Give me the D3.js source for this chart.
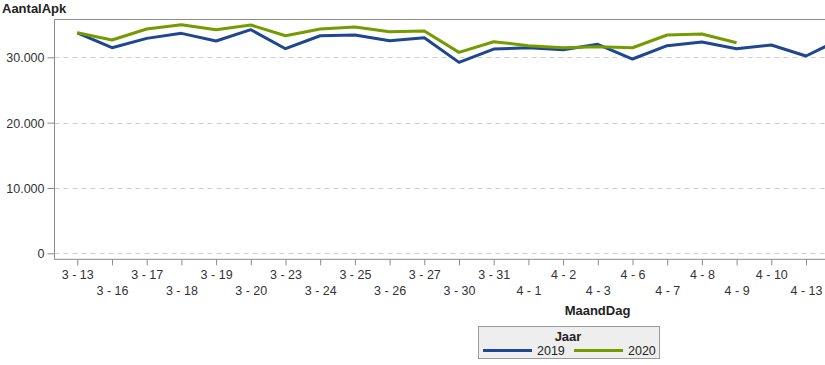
<!DOCTYPE html>
<html><head><meta charset="utf-8">
<script src="https://cdn.jsdelivr.net/npm/d3@7"></script>
<style>
html,body{margin:0;padding:0;background:#fff;overflow:hidden}
svg{display:block;font-family:"Liberation Sans",Arial,sans-serif}
</style></head><body>
<svg id="c" width="825" height="365"></svg>
<script>
const categories = ["3 - 13","3 - 16","3 - 17","3 - 18","3 - 19","3 - 20","3 - 23","3 - 24","3 - 25","3 - 26","3 - 27","3 - 30","3 - 31","4 - 1","4 - 2","4 - 3","4 - 6","4 - 7","4 - 8","4 - 9","4 - 10","4 - 13","4 - 14"];
const values2019 = [33750,31470,32900,33670,32500,34230,31320,33300,33420,32550,33000,29230,31270,31470,31170,31990,29740,31780,32340,31320,31880,30200,32800];
const values2020 = [33750,32650,34330,34990,34230,34950,33300,34330,34640,33930,34030,30760,32390,31780,31470,31620,31470,33420,33570,32240];
const yTicks = [0,10000,20000,30000];
const seriesNames = ["2019","2020"];
const colors = ["#1f4690","#749b00"];

(function(){
const svg = d3.select("#c");
const pLeft = 54.5, pTop = 19.5, pBottom = 259.3, pRight = 863.5;
const x = d3.scalePoint().domain(categories).range([pLeft,pRight]).padding(0.657);
const y = d3.scaleLinear().domain([-918,35790]).range([pBottom,pTop]);
const nl = d3.formatLocale({decimal:",",thousands:".",grouping:[3],currency:["€",""]});
const fmt = nl.format(",d");

svg.append("g").selectAll("line").data(yTicks).join("line")
  .attr("x1",pLeft).attr("x2",825).attr("y1",d=>Math.round(y(d))+0.5).attr("y2",d=>Math.round(y(d))+0.5)
  .attr("stroke","#cfcfcf").attr("stroke-dasharray","5,4");

svg.append("line").attr("x1",pLeft).attr("x2",825).attr("y1",pTop).attr("y2",pTop).attr("stroke","#8a8a8a");

const ya = svg.append("g").attr("transform",`translate(${pLeft},0)`)
  .call(d3.axisLeft(y).tickValues(yTicks).tickFormat(fmt).tickSize(7).tickSizeOuter(0));
ya.select(".domain").attr("stroke","#8a8a8a").attr("d",`M0,${pTop}V${pBottom}`);
ya.selectAll(".tick line").attr("stroke","#8a8a8a");
ya.selectAll(".tick text").attr("font-size","12.5px").attr("fill","#333").attr("x",-10).attr("dy","0.36em")
  .attr("font-family","'Liberation Sans',Arial,sans-serif");

const xa = svg.append("g").attr("transform",`translate(0,${pBottom})`)
  .call(d3.axisBottom(x).tickSize(6).tickSizeOuter(0));
xa.select(".domain").attr("stroke","#8a8a8a").attr("d",`M${pLeft},0H${pRight}`);
xa.selectAll(".tick line").attr("stroke","#8a8a8a");
xa.selectAll(".tick text").attr("font-size","12.5px").attr("fill","#333")
  .attr("font-family","'Liberation Sans',Arial,sans-serif")
  .attr("dy",null)
  .attr("y",(d,i)=> i%2===0 ? 20 : 36);
// the last category lies beyond the visible window; its label is not shown
xa.selectAll(".tick text").filter(d=>x(d)>825).remove();

const series = [values2019, values2020];
const line = d3.line().x((d,i)=>x(categories[i])).y(d=>y(d));
series.forEach((s,k)=>{
  svg.append("path").datum(s).attr("d",line).attr("fill","none")
    .attr("stroke",colors[k]).attr("stroke-width",3).attr("stroke-linejoin","round");
});

svg.append("text").attr("x",2).attr("y",13).attr("font-size","13px").attr("font-weight","bold").attr("fill","#222").text("AantalApk");
svg.append("text").attr("x",597.5).attr("y",315).attr("text-anchor","middle").attr("font-size","13px").attr("font-weight","bold").attr("fill","#222").text("MaandDag");

const lg = svg.append("g");
lg.append("rect").attr("x",478.5).attr("y",326.5).attr("width",181).attr("height",32).attr("fill","#eeeeee").attr("stroke","#9a9a9a");
lg.append("text").attr("x",568).attr("y",341).attr("text-anchor","middle").attr("font-size","13px").attr("font-weight","bold").attr("fill","#222").text("Jaar");
const lx = [483,574];
seriesNames.forEach((n,k)=>{
  lg.append("line").attr("x1",lx[k]).attr("x2",lx[k]+49).attr("y1",350.5).attr("y2",350.5).attr("stroke",colors[k]).attr("stroke-width",3);
  lg.append("text").attr("x",lx[k]+54).attr("y",355).attr("font-size","12.5px").attr("fill","#222").text(n);
});
})();
</script></body></html>
